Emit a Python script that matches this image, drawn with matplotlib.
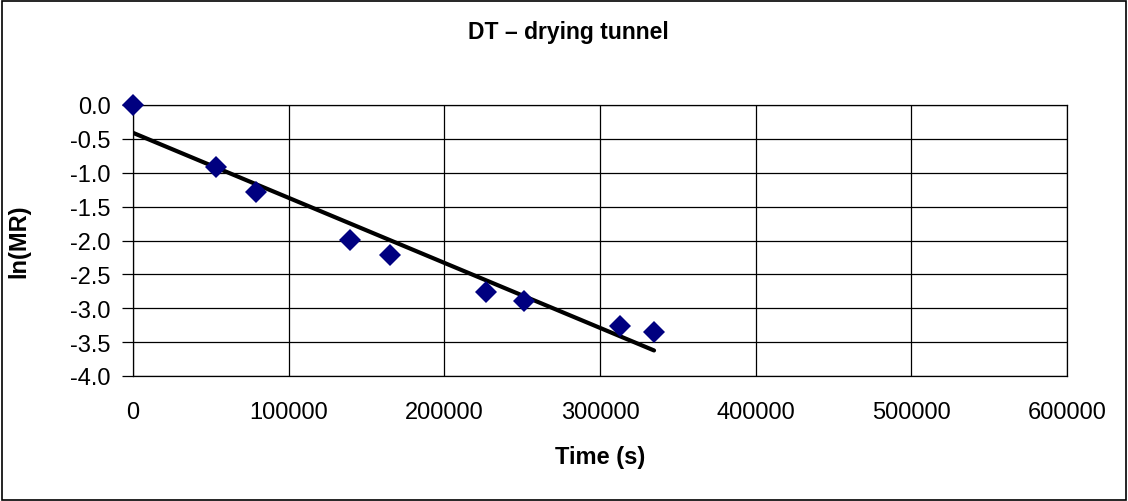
import numpy as np
import matplotlib
matplotlib.use("Agg")
import matplotlib.pyplot as plt
from matplotlib.patches import Rectangle

time_s = [0, 53300, 79000, 139400, 165100, 226800, 251200, 312800, 334700]
ln_mr = [0.0, -0.92, -1.29, -1.99, -2.22, -2.76, -2.90, -3.26, -3.35]
x_ticks = [0, 100000, 200000, 300000, 400000, 500000, 600000]
y_ticks = [0.0, -0.5, -1.0, -1.5, -2.0, -2.5, -3.0, -3.5, -4.0]

plt.rcParams['font.family'] = ['Liberation Sans', 'DejaVu Sans']
plt.rcParams['axes.unicode_minus'] = False

W, H = 1128, 502
fig = plt.figure(figsize=(W/100, H/100), dpi=100)
ax = fig.add_axes([133/W, 1-377/H, (1067-133)/W, (377-106)/H])

x = np.array(time_s, dtype=float)
y = np.array(ln_mr)
slope, intercept = np.polyfit(x, y, 1)
xl = np.array([x.min(), x.max()])
ax.plot(xl, slope*xl + intercept, color='black', lw=3, zorder=3, solid_capstyle='round')
ax.plot(x, y, linestyle='none', marker='D', color='#000080', markersize=11,
        markeredgewidth=0, zorder=4, clip_on=False)

ax.set_xlim(0, 600000)
ax.set_ylim(-4, 0)
ax.set_xticks(x_ticks)
ax.set_xticklabels([str(v) for v in x_ticks])
ax.set_yticks(y_ticks)
ax.set_yticklabels([f"{v:.1f}" for v in y_ticks])
ax.grid(True, color='black', lw=0.9)
ax.set_axisbelow(True)
for s in ax.spines.values():
    s.set_color('black')
    s.set_linewidth(0.9)
ax.tick_params(axis='y', length=8, width=0.9, pad=8, labelsize=17)
ax.tick_params(axis='x', length=0, pad=18, labelsize=17)

fig.text(600/W, 1-458/H, 'Time (s)', ha='center', va='center',
         fontsize=17, fontweight='bold')
fig.text(19/W, 1-241/H, 'ln(MR)', ha='center', va='center', rotation=90,
         fontsize=17, fontweight='bold')
fig.text(568/W, 1-33/H, 'DT – drying tunnel', ha='center', va='center',
         fontsize=16.5, fontweight='bold')

fig.patches.append(Rectangle((2/W, 1/H), 1-4/W, 1-3/H, transform=fig.transFigure,
                             fill=False, edgecolor='black', lw=1.2))
fig.savefig('out.png', dpi=100)
